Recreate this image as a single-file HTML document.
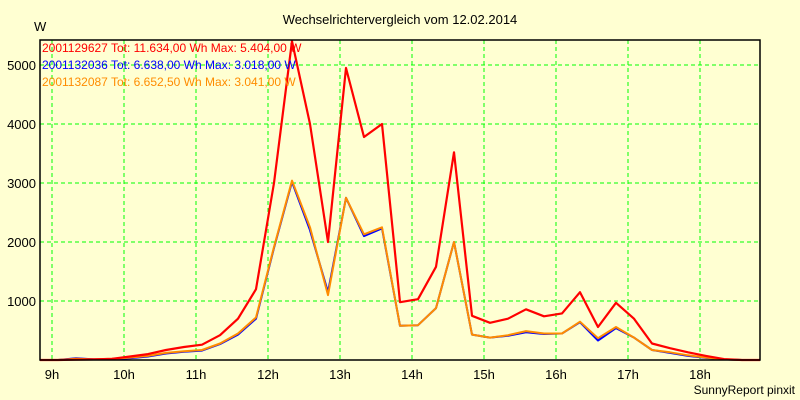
<!DOCTYPE html>
<html><head><meta charset="utf-8"><style>
html,body{margin:0;padding:0;background:#ffffd2;}
svg{display:block;font-family:"Liberation Sans",sans-serif;}
</style></head><body>
<svg id="chart" width="800" height="400">
<rect x="0" y="0" width="800" height="400" fill="#ffffd2"/>
<text x="400" y="24" text-anchor="middle" font-size="13" fill="#000">Wechselrichtervergleich vom 12.02.2014</text>
<text x="34" y="31" font-size="13" fill="#000">W</text>
<text x="795" y="394" text-anchor="end" font-size="12" fill="#000">SunnyReport pinxit</text>
<g id="grid"></g><g id="series"></g><g id="axes"></g>
<g font-size="12">
<text x="42" y="52" fill="#ff0000">2001129627 Tot: 11.634,00 Wh Max: 5.404,00 W</text>
<text x="42" y="69" fill="#0000ff">2001132036 Tot: 6.638,00 Wh Max: 3.018,00 W</text>
<text x="42" y="86" fill="#ff8c00">2001132087 Tot: 6.652,50 Wh Max: 3.041,00 W</text>
</g>
</svg>
<script>
const startMinute = 530, stepMinutes = 15;
const hourTicks = ["9h","10h","11h","12h","13h","14h","15h","16h","17h","18h"];
const yTicks = [1000,2000,3000,4000,5000];
const red = [0,0,5,10,20,60,100,170,220,260,420,700,1200,3000,5404,4000,2000,4950,3780,4000,980,1030,1580,3520,750,630,700,860,740,790,1150,560,970,700,280,200,130,70,15,0,0];
const blue = [0,0,30,10,10,30,60,110,140,160,270,430,700,1900,3018,2200,1150,2750,2100,2230,580,590,880,2000,430,380,410,470,440,450,640,330,540,380,170,120,70,35,10,0,0];
const orange = [0,0,20,10,20,40,70,120,150,170,280,450,720,1915,3041,2250,1100,2750,2130,2250,580,590,880,2000,430,380,420,490,450,450,650,370,560,380,170,130,80,40,10,0,0];
const L=40,R=760,T=40,B=360;
const tMin=530,tMax=1130,yMax=5424;
const xs=m=>L+(m-tMin)/(tMax-tMin)*(R-L);
const ys=v=>B-v/yMax*(B-T);
const NS="http://www.w3.org/2000/svg";
const grid=document.getElementById('grid'),axes=document.getElementById('axes'),ser=document.getElementById('series');
function mk(tag,attrs,parent){const e=document.createElementNS(NS,tag);for(const k in attrs)e.setAttribute(k,attrs[k]);parent.appendChild(e);return e;}
hourTicks.forEach((h,i)=>{const x=xs((9+i)*60);
 const g=mk('line',{x1:x,x2:x,y1:T,y2:B,stroke:'#00ff00','stroke-dasharray':'4,3'},grid);
 
 
 const t=mk('text',{x:x,y:B+19,'text-anchor':'middle','font-size':13,fill:'#000'},axes);
 t.textContent=h;
 
 
});
yTicks.forEach(v=>{const y=ys(v);
 const g=mk('line',{x1:L,x2:R,y1:y,y2:y,stroke:'#00ff00','stroke-dasharray':'4,3'},grid);
 
 
 const t=mk('text',{x:36,y:y+5,'text-anchor':'end','font-size':13,fill:'#000'},axes);
 t.textContent=v;
 
 
});
const frame=mk('path',{d:`M${L},${T}H${R}V${B}H${L}Z`,fill:'none',stroke:'#000','stroke-width':1.5},axes);


function line(arr,color,name,w){
 const pts=arr.map((v,i)=>xs(startMinute+i*stepMinutes).toFixed(1)+','+ys(v).toFixed(1)).join(' ');
 const p=mk('polyline',{points:pts,fill:'none',stroke:color,'stroke-width':w,'stroke-linejoin':'round'},ser);
 
 
}
line(blue,'#0000ff','series-2001132036',2);
line(orange,'#ff8c00','series-2001132087',2);
line(red,'#ff0000','series-2001129627',2.2);
</script>
</body></html>
